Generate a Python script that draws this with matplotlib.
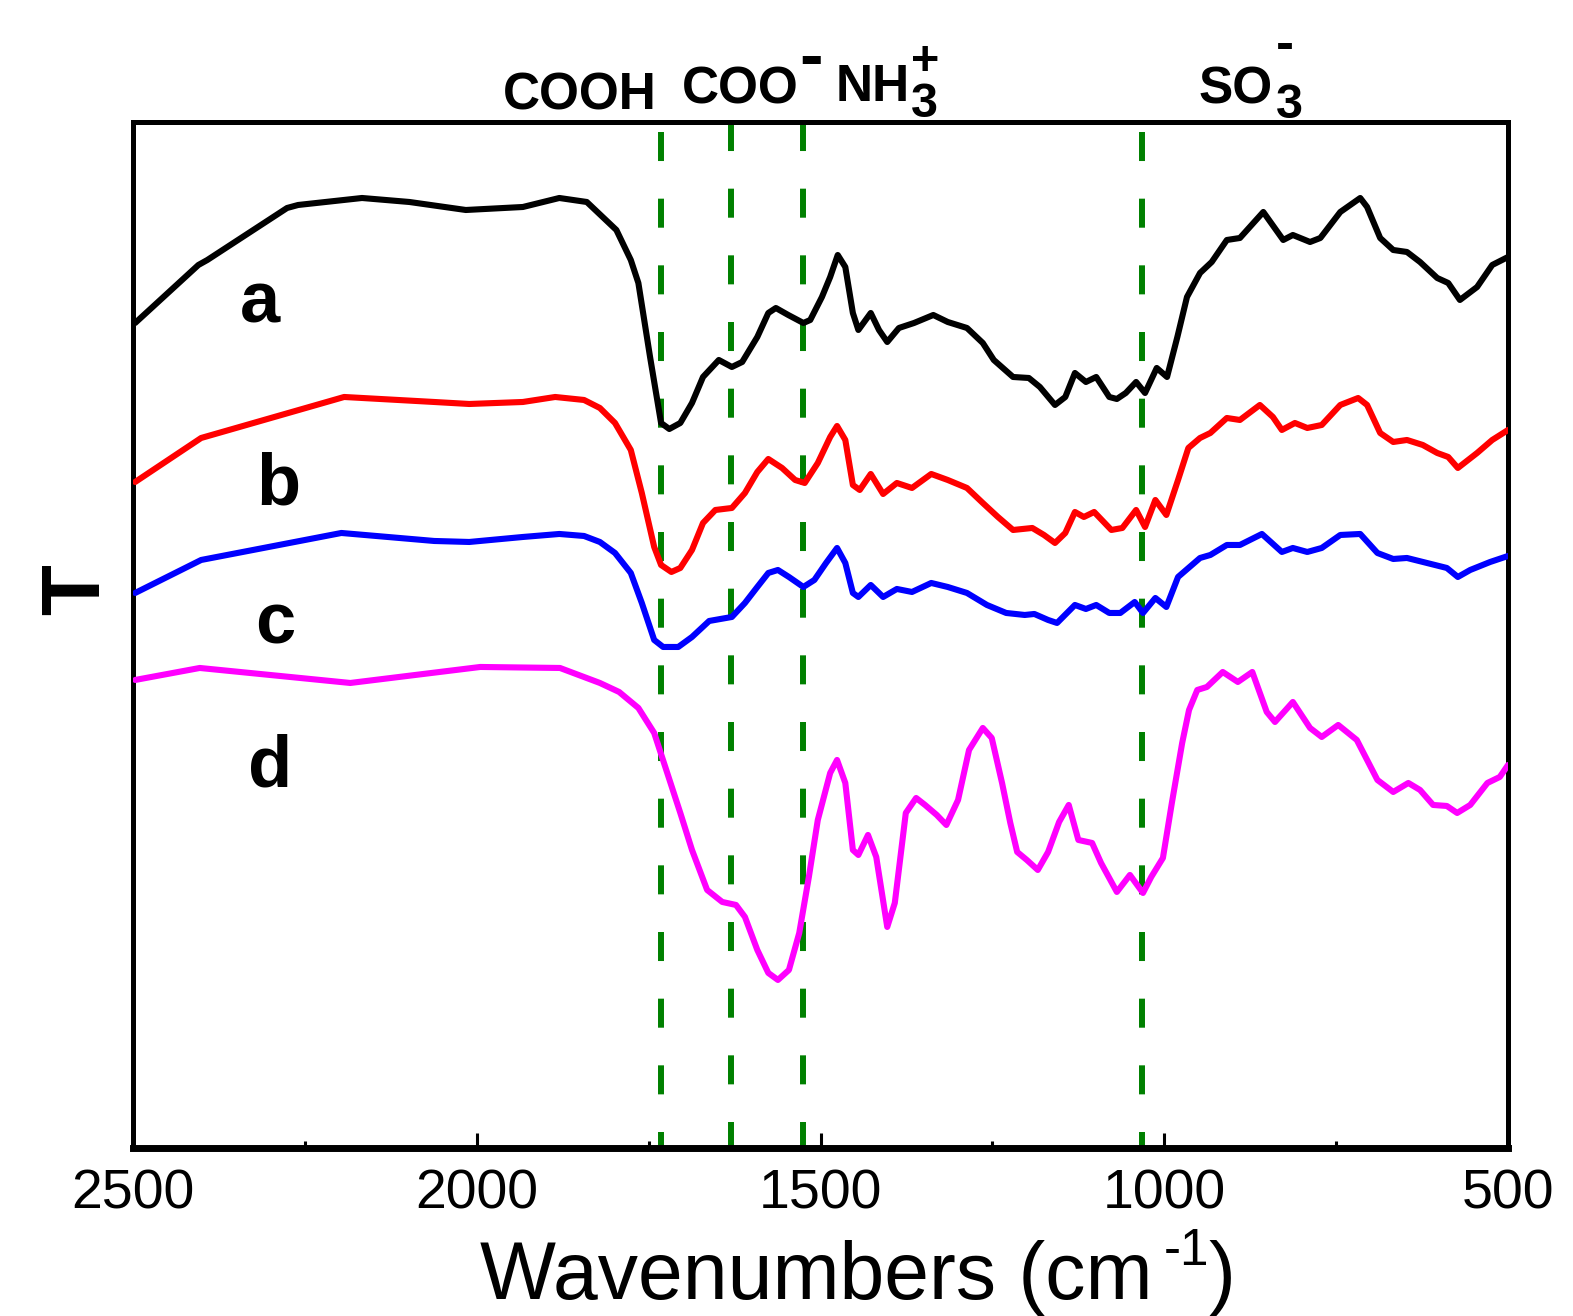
import numpy as np
import matplotlib
matplotlib.use("Agg")
import matplotlib.pyplot as plt

plt.rcParams['font.family'] = ['Liberation Sans', 'DejaVu Sans']
plt.rcParams['lines.scale_dashes'] = False

# spectra (wavenumber in cm-1, transmittance in arbitrary units)
wn_a = [2497, 2405, 2392, 2276, 2260, 2167, 2098, 2016, 1933, 1880,
        1840, 1797, 1776, 1765, 1748, 1732, 1720, 1704, 1687, 1671,
        1648, 1629, 1614, 1592, 1576, 1565, 1547, 1525, 1515, 1498,
        1486, 1475, 1464, 1453, 1445, 1427, 1415, 1403, 1386, 1364,
        1336, 1315, 1287, 1264, 1248, 1220, 1197, 1181, 1159, 1144,
        1130, 1114, 1099, 1080, 1069, 1056, 1041, 1028, 1011, 996,
        981, 967, 948, 931, 909, 890, 856, 827, 813, 788,
        773, 744, 715, 705, 686, 667, 647, 628, 603, 587,
        570, 545, 523, 500]
T_a = [82.5, 88.3, 88.8, 94.0, 94.3, 95.0, 94.6, 93.8, 94.1, 95.0,
       94.6, 91.8, 88.8, 86.5, 79.1, 72.5, 71.9, 72.5, 74.5, 77.1,
       78.8, 78.1, 78.6, 81.1, 83.5, 84.0, 83.3, 82.5, 82.8, 85.1,
       87.1, 89.3, 88.1, 83.5, 81.8, 83.5, 81.8, 80.6, 82.0, 82.5,
       83.3, 82.6, 82.0, 80.5, 78.8, 77.1, 77.0, 76.1, 74.3, 75.1,
       77.5, 76.6, 77.1, 75.1, 74.9, 75.5, 76.6, 75.5, 78.0, 77.1,
       81.1, 85.1, 87.5, 88.6, 90.8, 91.0, 93.6, 90.8, 91.3, 90.6,
       91.0, 93.6, 95.0, 94.1, 91.0, 89.8, 89.6, 88.6, 87.0, 86.5,
       84.8, 86.1, 88.3, 89.1]

wn_b = [2497, 2401, 2193, 2062, 2011, 1933, 1886, 1844, 1821, 1799,
        1776, 1760, 1742, 1732, 1717, 1704, 1687, 1671, 1653, 1629,
        1610, 1592, 1576, 1556, 1537, 1523, 1504, 1486, 1476, 1464,
        1453, 1443, 1427, 1409, 1389, 1367, 1339, 1315, 1287, 1264,
        1242, 1220, 1192, 1175, 1159, 1144, 1130, 1117, 1102, 1077,
        1061, 1041, 1028, 1013, 997, 980, 965, 948, 933, 909,
        890, 861, 842, 829, 810, 792, 771, 744, 718, 705,
        686, 667, 647, 624, 603, 587, 573, 545, 523, 500]
T_b = [66.6, 71.0, 75.1, 74.6, 74.4, 74.6, 75.1, 74.8, 74.0, 72.5,
       69.8, 65.5, 60.1, 58.3, 57.6, 58.0, 59.8, 62.5, 63.8, 64.0,
       65.5, 67.6, 68.9, 68.0, 66.8, 66.5, 68.5, 71.1, 72.2, 70.8,
       66.3, 65.8, 67.4, 65.4, 66.5, 66.0, 67.4, 66.8, 66.0, 64.5,
       63.1, 61.8, 62.0, 61.3, 60.5, 61.5, 63.6, 63.1, 63.6, 61.8,
       62.0, 63.8, 62.1, 64.8, 63.3, 66.8, 70.0, 71.0, 71.5, 73.0,
       72.8, 74.3, 73.1, 71.8, 72.5, 72.0, 72.3, 74.3, 75.0, 74.3,
       71.5, 70.6, 70.8, 70.3, 69.5, 69.1, 68.0, 69.5, 70.8, 71.8]

wn_c = [2497, 2401, 2197, 2062, 2011, 1933, 1880, 1844, 1821, 1799,
        1776, 1760, 1742, 1729, 1707, 1687, 1662, 1629, 1610, 1592,
        1576, 1562, 1546, 1525, 1509, 1492, 1476, 1464, 1453, 1445,
        1427, 1409, 1389, 1367, 1339, 1315, 1287, 1258, 1230, 1203,
        1189, 1169, 1156, 1130, 1114, 1099, 1080, 1064, 1043, 1031,
        1013, 997, 980, 948, 933, 909, 890, 858, 829, 813,
        792, 771, 744, 715, 690, 667, 647, 618, 589, 573,
        555, 526, 500]
T_c = [55.5, 58.8, 61.5, 60.7, 60.6, 61.1, 61.4, 61.2, 60.6, 59.5,
       57.5, 54.5, 50.8, 50.1, 50.1, 51.1, 52.7, 53.1, 54.5, 56.1,
       57.5, 57.8, 57.1, 56.1, 56.8, 58.5, 60.0, 58.5, 55.5, 55.1,
       56.3, 55.1, 55.9, 55.6, 56.5, 56.1, 55.5, 54.3, 53.5, 53.3,
       53.4, 52.8, 52.5, 54.3, 53.9, 54.3, 53.5, 53.5, 54.6, 53.5,
       55.0, 54.1, 57.1, 59.0, 59.3, 60.3, 60.3, 61.4, 59.6, 60.0,
       59.6, 60.0, 61.3, 61.4, 59.5, 58.9, 59.0, 58.5, 58.0, 57.1,
       57.8, 58.6, 59.2]

wn_d = [2497, 2403, 2184, 1995, 1879, 1821, 1793, 1765, 1742, 1723,
        1704, 1687, 1665, 1643, 1623, 1610, 1592, 1576, 1562, 1546,
        1531, 1517, 1504, 1486, 1476, 1464, 1453, 1445, 1431, 1419,
        1403, 1392, 1376, 1361, 1348, 1331, 1317, 1300, 1284, 1264,
        1251, 1236, 1224, 1214, 1200, 1184, 1169, 1153, 1139, 1125,
        1105, 1092, 1069, 1050, 1031, 1019, 1002, 989, 974, 964,
        952, 938, 915, 893, 872, 851, 839, 813, 788, 771,
        747, 720, 690, 667, 645, 628, 609, 589, 574, 555,
        530, 512, 500]
T_d = [46.8, 48.0, 46.5, 48.1, 48.0, 46.5, 45.6, 44.0, 41.5, 37.5,
       33.5, 29.8, 25.8, 24.6, 24.3, 23.1, 19.8, 17.5, 16.8, 17.8,
       21.5, 27.1, 32.8, 37.5, 38.8, 36.5, 29.8, 29.3, 31.3, 29.1,
       22.1, 24.5, 33.5, 35.0, 34.3, 33.3, 32.3, 34.8, 39.8, 42.0,
       41.0, 36.5, 32.5, 29.6, 28.8, 27.8, 29.6, 32.6, 34.3, 30.8,
       30.5, 28.5, 25.6, 27.3, 25.5, 27.1, 29.0, 34.5, 40.5, 43.8,
       45.8, 46.1, 47.6, 46.6, 47.6, 43.6, 42.6, 44.6, 42.0, 41.1,
       42.3, 40.8, 36.8, 35.6, 36.5, 35.8, 34.3, 34.2, 33.5, 34.3,
       36.5, 37.1, 38.3]

curve_names = ['a', 'b', 'c', 'd']
curve_colors = ['black', '#ff0000', '#0000ff', '#ff00ff']
label_wn = [2315, 2289, 2293, 2301]
label_T = [84.4, 66.2, 52.3, 38.0]

# band positions (cm-1)
band_wn = [1732, 1630, 1525, 1032]
band_dash_offset = [40.8, 0, 0, 40.8]

W, H = 1573, 1316


def fx(px):
    return px / W


def fy(py):
    return 1 - py / H


fig = plt.figure(figsize=(15.73, 13.16), dpi=100)
ax = fig.add_axes([0.0846, 0.1277, 0.8741, 0.7796])
ymax = 102.6

series = [(wn_a, T_a), (wn_b, T_b), (wn_c, T_c), (wn_d, T_d)]
for (x, y), col in zip(series, curve_colors):
    ax.plot(x, y, color=col, lw=4.4, solid_joinstyle='round',
            solid_capstyle='round', zorder=3)

for w, off in zip(band_wn, band_dash_offset):
    ax.plot([w, w], [ymax, 0], color='#008000', lw=4.3,
            linestyle=(off, (20.9, 27.1)), dash_capstyle='butt', zorder=2)

for name, x, y in zip(curve_names, label_wn, label_T):
    ax.text(x, y, name, fontsize=52, fontweight='bold', ha='center', va='center')

# group labels above the frame
bold = dict(fontweight='bold', va='baseline')
fig.text(fx(503), fy(110), 'COOH', fontsize=37, ha='left', **bold)
fig.text(fx(682), fy(104), 'COO', fontsize=37, ha='left', **bold)
fig.text(fx(799), fy(78), '-', fontsize=51, ha='left', **bold)
fig.text(fx(836), fy(101), 'NH', fontsize=37, ha='left', **bold)
fig.text(fx(911), fy(117), '3', fontsize=35, ha='left', **bold)
fig.text(fx(911), fy(75), '+', fontsize=35, ha='left', **bold)
fig.text(fx(1199), fy(103), 'SO', fontsize=37, ha='left', **bold)
fig.text(fx(1276), fy(118), '3', fontsize=35, ha='left', **bold)
fig.text(fx(1276), fy(60), '-', fontsize=39, ha='left', **bold)

ax.set_xlim(2500, 500)
ax.set_ylim(0, ymax)
ax.set_xticks([2500, 2000, 1500, 1000, 500])
ax.set_xticks([2250, 1750, 1250, 750], minor=True)
ax.set_yticks([])
ax.tick_params(axis='x', which='major', direction='in', length=11, width=2.2,
               labelsize=40, pad=15)
ax.tick_params(axis='x', which='minor', direction='in', length=5, width=2.2)
for side in ['left', 'right', 'top']:
    ax.spines[side].set_linewidth(3.6)
ax.spines['bottom'].set_linewidth(5)

# axis titles
fig.text(fx(480), fy(1299), 'Wavenumbers (cm', fontsize=58, ha='left', va='baseline')
fig.text(fx(1164), fy(1265), '-1', fontsize=37, ha='left', va='baseline')
fig.text(fx(1208), fy(1299), ')', fontsize=58, ha='left', va='baseline')
fig.text(fx(77), fy(590), 'T', fontsize=60, fontweight='bold',
         rotation=90, ha='center', va='center')

fig.savefig('out.png', dpi=100)
